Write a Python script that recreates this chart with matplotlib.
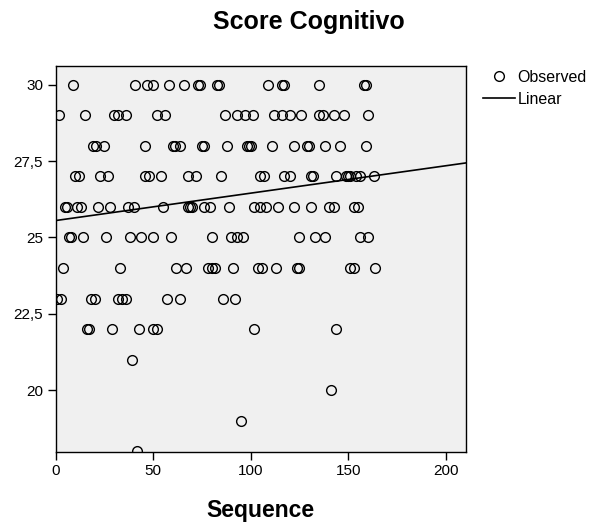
import numpy as np
import matplotlib
matplotlib.use('Agg')
import matplotlib.pyplot as plt
from matplotlib.lines import Line2D
from matplotlib.ticker import FuncFormatter

plt.rcParams['font.family'] = ['Liberation Sans', 'DejaVu Sans']

# sequence numbers per score level
seq_30 = [9, 41, 47, 50, 58, 66, 73, 74, 83, 84, 109, 116, 117, 135, 158, 159]
seq_29 = [2, 15, 30, 32, 36, 52, 56, 87, 93, 97, 101, 112, 116, 120, 126, 135, 137, 143, 148, 160]
seq_28 = [19, 21, 25, 46, 60, 61, 64, 75, 76, 88, 98, 99, 100, 111, 122, 129, 130, 138, 146, 159]
seq_27 = [10, 12, 23, 27, 46, 48, 54, 68, 72, 85, 105, 107, 117, 120, 131, 132, 144, 149, 150, 151, 154, 156, 163]
seq_26 = [5, 6, 11, 13, 22, 28, 37, 40, 55, 68, 69, 70, 76, 79, 89, 102, 105, 108, 114, 122, 131, 140, 143, 153, 155]
seq_25 = [7, 8, 14, 26, 38, 44, 50, 59, 80, 90, 93, 96, 125, 133, 138, 156, 160]
seq_24 = [4, 33, 62, 67, 78, 80, 82, 91, 104, 106, 113, 124, 125, 151, 153, 164]
seq_23 = [1, 3, 18, 20, 32, 34, 36, 57, 64, 86, 92]
seq_22 = [16, 17, 29, 43, 50, 52, 102, 144]
seq_21 = [39]
seq_20 = [141]
seq_19 = [95]
seq_18 = [42]

levels = {30: seq_30, 29: seq_29, 28: seq_28, 27: seq_27, 26: seq_26, 25: seq_25,
          24: seq_24, 23: seq_23, 22: seq_22, 21: seq_21, 20: seq_20, 19: seq_19, 18: seq_18}

x = np.concatenate([np.array(v, dtype=float) for v in levels.values()])
y = np.concatenate([np.full(len(v), k, dtype=float) for k, v in levels.items()])

xticks = [0, 50, 100, 150, 200]
yticks = [20, 22.5, 25, 27.5, 30]

fig = plt.figure(figsize=(5.93, 5.23), dpi=100)
ax = fig.add_axes([0.0936, 0.1358, 0.6922, 0.738])
ax.set_facecolor('#f0f0f0')

ax.plot(x, y, 'o', ms=7, mfc='none', mec='black', mew=1.0, label='Observed', zorder=3)

# linear fit
b1, b0 = np.polyfit(x, y, 1)
xl = np.array([0, 210.4])
ax.plot(xl, b0 + b1 * xl, color='black', lw=1.2, label='Linear', zorder=2)

ax.set_xlim(0, 210.4)
ax.set_ylim(17.97, 30.62)
ax.set_xticks(xticks)
ax.set_yticks(yticks)
ax.yaxis.set_major_formatter(FuncFormatter(lambda v, p: ('%g' % v).replace('.', ',')))
ax.tick_params(direction='out', length=6, width=1, labelsize=11, colors='black', pad=3)
for s in ax.spines.values():
    s.set_linewidth(1)
    s.set_color('black')

fig.text(0.521, 0.958, 'Score Cognitivo', ha='center', va='center', fontsize=18, fontweight='bold')
ax.set_xlabel('Sequence', fontsize=16.5, fontweight='bold', labelpad=15)

handles = [Line2D([], [], ls='none', marker='o', ms=7, mfc='none', mec='black', mew=1.0),
           Line2D([], [], color='black', lw=1.2)]
fig.legend(handles, ['Observed', 'Linear'], loc='upper left', bbox_to_anchor=(0.8145, 0.866),
           frameon=False, fontsize=11.5, handlelength=2.0, handletextpad=0.15,
           borderpad=0, borderaxespad=0, labelspacing=0.42)

fig.savefig('out.png', dpi=100)
